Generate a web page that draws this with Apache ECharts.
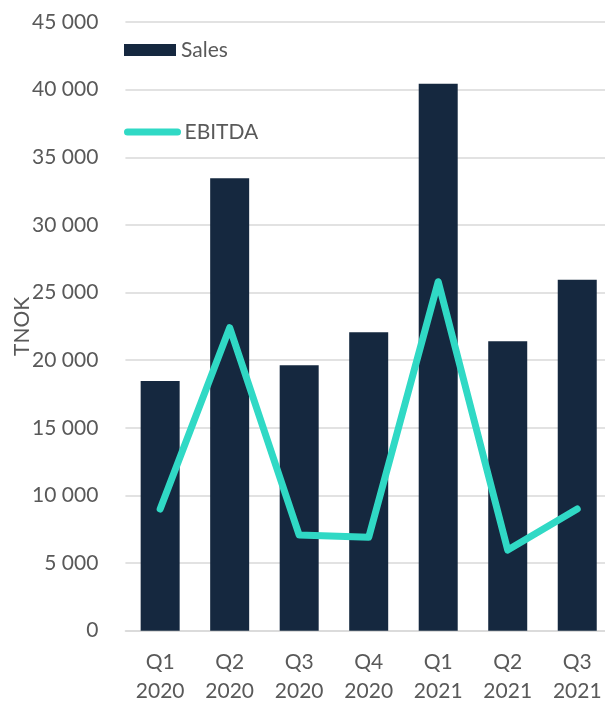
<!DOCTYPE html>
<html>
<head>
<meta charset="utf-8">
<script src="https://cdn.jsdelivr.net/npm/echarts@6/dist/echarts.min.js"></script>
<style>
html,body{margin:0;padding:0;background:#fff;}
#chart{width:605px;height:701px;}
</style>
</head>
<body>
<div id="chart"></div>
<script>
const quarters = ['Q1', 'Q2', 'Q3', 'Q4', 'Q1', 'Q2', 'Q3'];
const years = ['2020', '2020', '2020', '2020', '2021', '2021', '2021'];
const sales = [18460, 33440, 19620, 22060, 40440, 21400, 25950];
const ebitda = [8990, 22400, 7070, 6900, 25800, 5960, 9000];
const yTicks = [0, 5000, 10000, 15000, 20000, 25000, 30000, 35000, 40000, 45000];

const categories = quarters.map((q, i) => q + '\n' + years[i]);
const textColor = '#595959';
const font = 'Lato';
const fmt = v => String(v).replace(/\B(?=(\d{3})+(?!\d))/g, ' ');

const chart = echarts.init(document.getElementById('chart'), null, {renderer: 'canvas'});
chart.setOption({
  animation: false,
  backgroundColor: '#ffffff',
  textStyle: {fontFamily: font},
  grid: {left: 125.4, right: -7, top: 22, bottom: 70.3, containLabel: false, outerBoundsMode: 'none'},
  legend: [
    {
      data: ['Sales'], left: 124, top: 38, orient: 'vertical', padding: 0,
      icon: 'rect', itemWidth: 52, itemHeight: 12, itemGap: 0,
      textStyle: {fontFamily: font, fontSize: 21, color: textColor, lineHeight: 24}
    },
    {
      data: ['EBITDA'], left: 124, top: 120, orient: 'vertical', padding: 0,
      itemWidth: 50, itemHeight: 14, itemGap: 0,
      lineStyle: {width: 7, cap: 'round'},
      itemStyle: {color: 'rgba(0,0,0,0)', borderWidth: 0},
      textStyle: {fontFamily: font, fontSize: 21, color: textColor, lineHeight: 24, padding: [0, 0, 0, 2]}
    }
  ],
  xAxis: {
    type: 'category',
    data: categories,
    axisTick: {show: false},
    axisLine: {lineStyle: {color: '#d9d9d9', width: 1.5}},
    axisLabel: {
      fontFamily: font, fontSize: 21, color: textColor, lineHeight: 29,
      margin: 17, interval: 0, align: 'center'
    }
  },
  yAxis: {
    type: 'value',
    min: yTicks[0], max: yTicks[yTicks.length - 1], interval: yTicks[1] - yTicks[0],
    name: 'TNOK', nameLocation: 'middle', nameRotate: 90, nameGap: 93,
    nameMoveOverlap: false,
    nameTextStyle: {fontFamily: font, fontSize: 21, color: textColor},
    axisLine: {show: false},
    axisTick: {show: false},
    splitLine: {lineStyle: {color: '#d9d9d9', width: 1.5}},
    axisLabel: {
      fontFamily: font, fontSize: 21, color: textColor, margin: 27,
      formatter: v => fmt(v)
    }
  },
  series: [
    {
      name: 'Sales', type: 'bar', data: sales, barWidth: 39,
      itemStyle: {color: '#15283f'}
    },
    {
      name: 'EBITDA', type: 'line', data: ebitda,
      symbol: 'none', smooth: false,
      lineStyle: {color: '#30d9c5', width: 7, cap: 'round', join: 'round'},
      itemStyle: {color: '#30d9c5'}
    }
  ]
});
</script>
</body>
</html>
